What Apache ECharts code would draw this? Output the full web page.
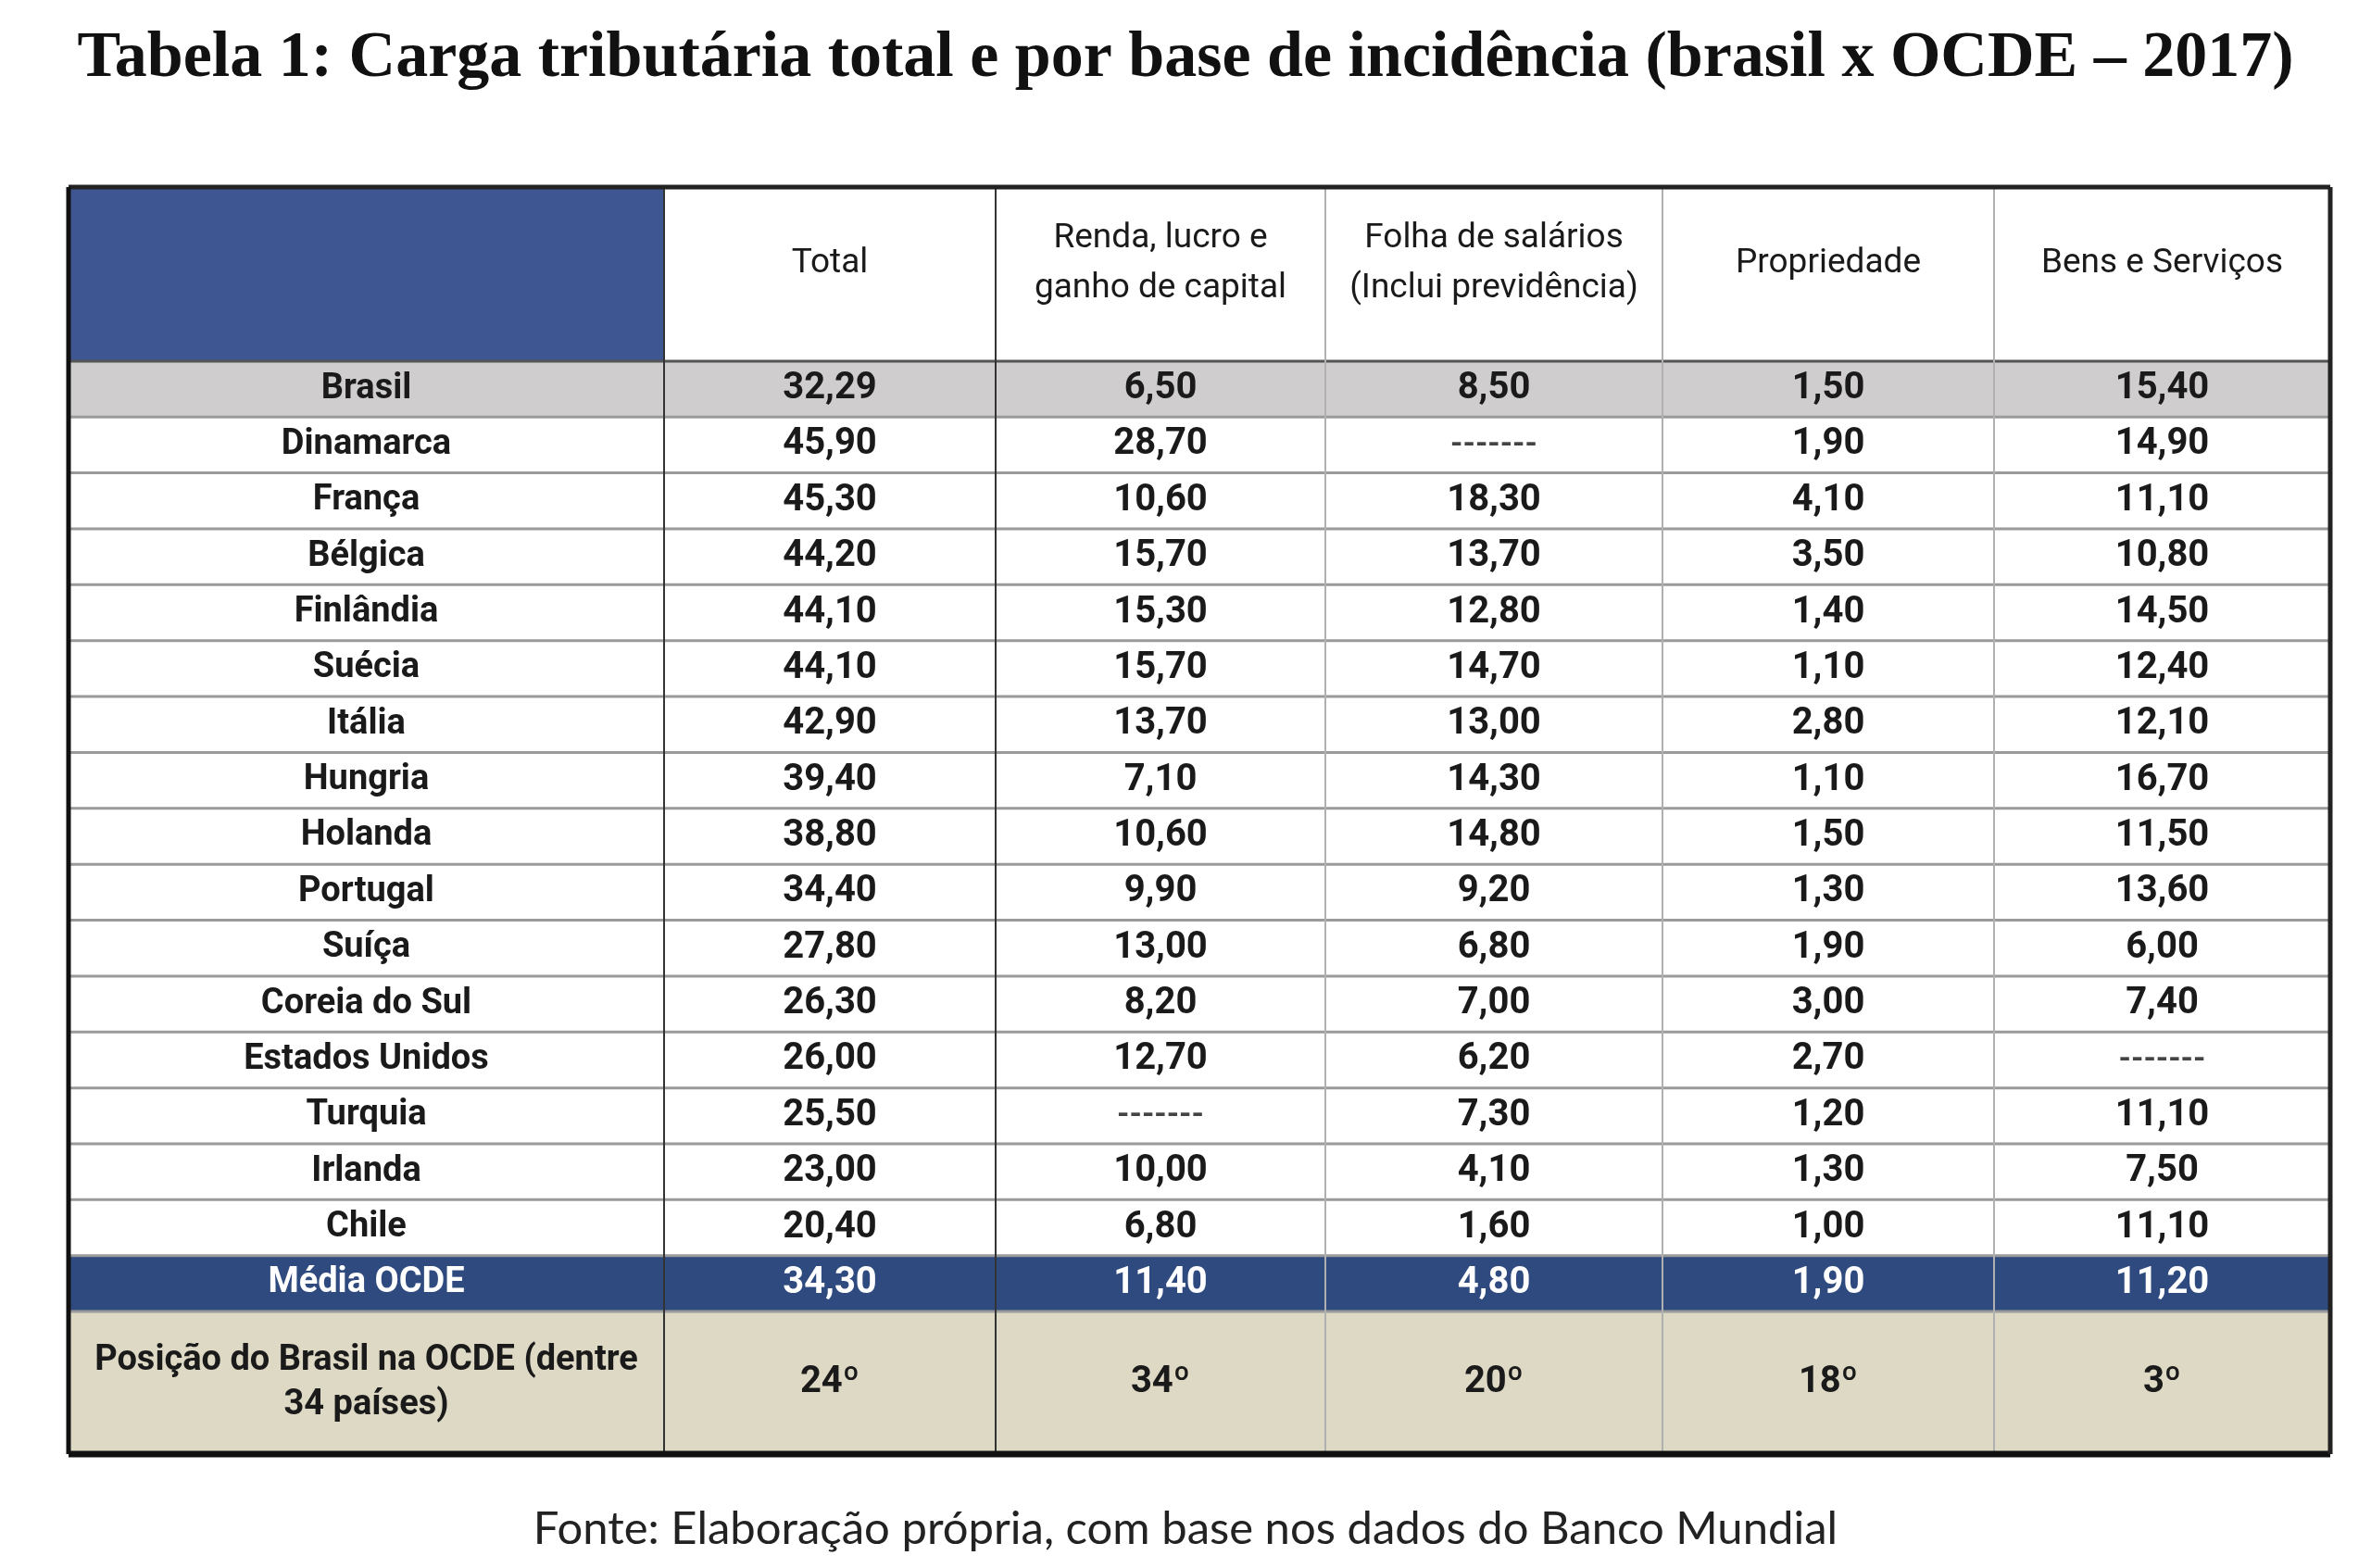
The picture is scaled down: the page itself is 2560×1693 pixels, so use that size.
<!DOCTYPE html>
<html>
<head>
<meta charset="utf-8">
<script src="https://cdn.jsdelivr.net/npm/echarts@6/dist/echarts.min.js"></script>
<style>
  html, body { margin: 0; padding: 0; background: #fff; }
  #main { width: 2560px; height: 1693px; }
</style>
</head>
<body>
<div id="main"></div>
<script>
// dados da tabela
var headers = ['', 'Total', 'Renda, lucro e\nganho de capital', 'Folha de salários\n(Inclui previdência)', 'Propriedade', 'Bens e Serviços'];
var countries = ['Brasil', 'Dinamarca', 'França', 'Bélgica', 'Finlândia', 'Suécia', 'Itália', 'Hungria',
    'Holanda', 'Portugal', 'Suíça', 'Coreia do Sul', 'Estados Unidos', 'Turquia', 'Irlanda', 'Chile'];
var total = [32.29, 45.90, 45.30, 44.20, 44.10, 44.10, 42.90, 39.40, 38.80, 34.40, 27.80, 26.30, 26.00, 25.50, 23.00, 20.40];
var renda = [6.50, 28.70, 10.60, 15.70, 15.30, 15.70, 13.70, 7.10, 10.60, 9.90, 13.00, 8.20, 12.70, null, 10.00, 6.80];
var folha = [8.50, null, 18.30, 13.70, 12.80, 14.70, 13.00, 14.30, 14.80, 9.20, 6.80, 7.00, 6.20, 7.30, 4.10, 1.60];
var propriedade = [1.50, 1.90, 4.10, 3.50, 1.40, 1.10, 2.80, 1.10, 1.50, 1.30, 1.90, 3.00, 2.70, 1.20, 1.30, 1.00];
var bens = [15.40, 14.90, 11.10, 10.80, 14.50, 12.40, 12.10, 16.70, 11.50, 13.60, 6.00, 7.40, null, 11.10, 7.50, 11.10];
var mediaLabel = 'Média OCDE';
var mediaOCDE = [34.30, 11.40, 4.80, 1.90, 11.20];
var posicaoLabel = 'Posição do Brasil na OCDE (dentre\n34 países)';
var posicaoBrasil = ['24º', '34º', '20º', '18º', '3º'];

// layout da tabela (unidades dos eixos = px)
var colEdges = [0, 643, 1001, 1357, 1721, 2079, 2442];
var rowHeights = [188];
for (var r = 0; r < countries.length + 1; r++) rowHeights.push(60.4);
rowHeights.push(154);
var rowEdges = [0];
rowHeights.forEach(function (h) { rowEdges.push(rowEdges[rowEdges.length - 1] + h); });
var lastRow = rowHeights.length - 1;

function fmt(v) {
    return v == null ? '-------' : v.toFixed(2).replace('.', ',');
}

// monta as celulas
var cells = [];
headers.forEach(function (h, c) { cells.push({ value: [c, 0], text: h, kind: 'header' }); });
var columns = [total, renda, folha, propriedade, bens];
countries.forEach(function (name, i) {
    var kind = i === 0 ? 'brasil' : 'body';
    cells.push({ value: [0, i + 1], text: name, kind: kind, name: true });
    columns.forEach(function (arr, c) {
        cells.push({ value: [c + 1, i + 1], text: fmt(arr[i]), kind: kind, missing: arr[i] == null });
    });
});
cells.push({ value: [0, countries.length + 1], text: mediaLabel, kind: 'media', name: true });
mediaOCDE.forEach(function (v, c) { cells.push({ value: [c + 1, countries.length + 1], text: fmt(v), kind: 'media' }); });
cells.push({ value: [0, lastRow], text: posicaoLabel, kind: 'posicao', name: true, small: true });
posicaoBrasil.forEach(function (v, c) { cells.push({ value: [c + 1, lastRow], text: v, kind: 'posicao' }); });

var fills = { header: '#fff', brasil: '#cfcdce', body: '#fff', media: '#2f4a7e', posicao: '#ddd9c5' };

function renderCell(params, api) {
    var col = api.value(0), row = api.value(1);
    var cell = cells[params.dataIndex];
    var p0 = api.coord([colEdges[col], rowEdges[row]]);
    var p1 = api.coord([colEdges[col + 1], rowEdges[row + 1]]);
    var fill = fills[cell.kind];
    if (cell.kind === 'header' && col === 0) fill = '#3e5692';
    var cx = (p0[0] + p1[0]) / 2, cy = (p0[1] + p1[1]) / 2;
    var font = 'bold 40px Roboto';
    var lh = 48;
    if (cell.kind === 'header') { font = '37px Roboto'; cy -= 11; lh = 54; }
    else if (cell.small) { font = 'bold 38px Roboto'; lh = 48; }
    else if (cell.name) { font = 'bold 38px Roboto'; }
    if (cell.missing) font = 'bold 34px Roboto';
    return {
        type: 'group',
        children: [
            { type: 'rect', shape: { x: p0[0], y: p0[1], width: p1[0] - p0[0], height: p1[1] - p0[1] },
              style: { fill: fill } },
            { type: 'text', x: cx, y: cy,
              style: { text: cell.text, font: font, lineHeight: lh, align: 'center', verticalAlign: 'middle',
                       fill: cell.kind === 'media' ? '#fff' : (cell.missing ? '#444' : '#1a1a1a') } }
        ]
    };
}

// linhas da grade
var rules = [];
for (var i = 1; i < rowEdges.length - 1; i++) {
    rules.push({ value: [0, rowEdges[i], colEdges[6], rowEdges[i]], color: i === 1 ? '#555' : '#9a9a9a', w: 3 });
}
for (var j = 1; j < colEdges.length - 1; j++) {
    rules.push({ value: [colEdges[j], 0, colEdges[j], rowEdges[rowEdges.length - 1]], color: j <= 2 ? '#333' : '#b0b0b0', w: 2 });
}
var H = rowEdges[rowEdges.length - 1];
rules.push({ value: [0, 0, colEdges[6], 0], color: '#222', w: 5 });
rules.push({ value: [0, H, colEdges[6], H], color: '#111', w: 7 });
rules.push({ value: [0, 0, 0, H], color: '#111', w: 5 });
rules.push({ value: [colEdges[6], 0, colEdges[6], H], color: '#222', w: 5 });

function renderRule(params, api) {
    var r = rules[params.dataIndex];
    var a = api.coord([api.value(0), api.value(1)]);
    var b = api.coord([api.value(2), api.value(3)]);
    return { type: 'line', shape: { x1: a[0], y1: a[1], x2: b[0], y2: b[1] },
             style: { stroke: r.color, lineWidth: r.w } };
}

var myChart = echarts.init(document.getElementById('main'));
var option = {
    backgroundColor: '#fff',
    animation: false,
    title: [
        {
            text: 'Tabela 1: Carga tributária total e por base de incidência (brasil x OCDE – 2017)',
            left: 'center',
            top: 24,
            textStyle: { fontFamily: 'Liberation Serif', fontWeight: 'bold', fontSize: 70, color: '#111' }
        },
        {
            text: 'Fonte: Elaboração própria, com base nos dados do Banco Mundial',
            left: 'center',
            top: 1622,
            textStyle: { fontFamily: 'Lato', fontWeight: 'normal', fontSize: 49, color: '#222' }
        }
    ],
    grid: { left: 74, right: 44, top: 202, bottom: 123 },
    xAxis: { type: 'value', min: 0, max: colEdges[6], show: false },
    yAxis: { type: 'value', min: 0, max: H, inverse: true, show: false },
    series: [
        { type: 'custom', renderItem: renderCell, data: cells, silent: true, clip: false },
        { type: 'custom', renderItem: renderRule, data: rules, silent: true, clip: false, z: 5 }
    ]
};
myChart.setOption(option);
</script>
</body>
</html>
